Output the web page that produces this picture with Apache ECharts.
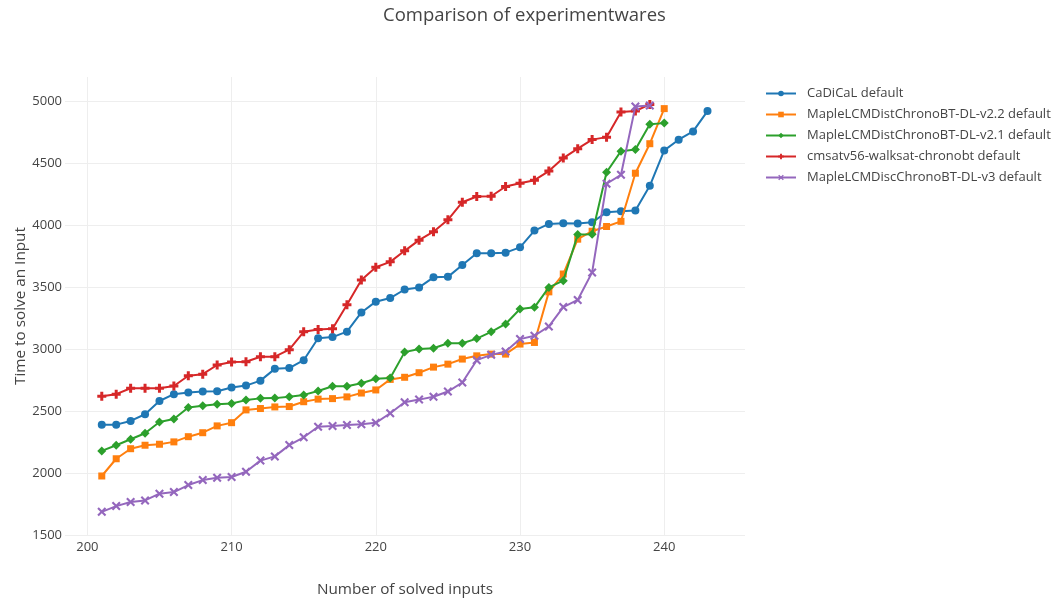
<!DOCTYPE html>
<html>
<head>
<meta charset="utf-8">
<script src="https://cdn.jsdelivr.net/npm/echarts@6/dist/echarts.min.js"></script>
<style>
html,body{margin:0;padding:0;background:#fff;}
#chart{width:1059px;height:601px;}
</style>
</head>
<body>
<div id="chart"></div>
<script>
const titleText = 'Comparison of experimentwares';
const xName = 'Number of solved inputs';
const yName = 'Time to solve an Input';
const startX = 201;
const seriesNames = [
  'CaDiCaL default',
  'MapleLCMDistChronoBT-DL-v2.2 default',
  'MapleLCMDistChronoBT-DL-v2.1 default',
  'cmsatv56-walksat-chronobt default',
  'MapleLCMDiscChronoBT-DL-v3 default'
];
const cadical = [2390,2390,2420,2474,2581,2636,2649,2658,2660,2690,
  2705,2745,2840,2846,2910,3087,3096,3140,3295,3382,
  3411,3480,3497,3578,3582,3678,3772,3772,3777,3820,
  3955,4009,4014,4012,4022,4103,4111,4117,4316,4602,
  4688,4755,4919];
const maple22 = [1976,2115,2196,2224,2232,2251,2293,2325,2380,2406,
  2509,2520,2533,2536,2575,2596,2600,2614,2645,2670,
  2755,2772,2809,2854,2878,2919,2945,2959,2959,3040,
  3053,3461,3605,3886,3950,3988,4030,4418,4656,4939];
const maple21 = [2178,2224,2272,2321,2412,2435,2528,2542,2555,2560,
  2588,2602,2604,2616,2630,2662,2700,2700,2724,2760,
  2766,2975,3000,3006,3046,3046,3084,3139,3202,3323,
  3336,3497,3551,3923,3925,4426,4596,4610,4812,4822];
const cmsat = [2620,2636,2684,2684,2684,2702,2784,2797,2871,2895,
  2897,2938,2938,2995,3139,3157,3163,3357,3557,3660,
  3703,3792,3878,3946,4042,4184,4230,4232,4311,4337,
  4362,4435,4540,4616,4689,4709,4912,4920,4973];
const maplev3 = [1687,1733,1766,1779,1833,1846,1903,1943,1962,1968,
  2010,2100,2134,2225,2288,2373,2380,2388,2394,2405,
  2482,2571,2592,2615,2657,2730,2910,2953,2980,3080,
  3107,3182,3338,3396,3618,4333,4405,4957,4965];

const allValues = [cadical, maple22, maple21, cmsat, maplev3];
const colors = ['#1f77b4','#ff7f0e','#2ca02c','#d62728','#9467bd'];
const crossPath = 'path://M2,0 L4,0 L4,2 L6,2 L6,4 L4,4 L4,6 L2,6 L2,4 L0,4 L0,2 L2,2 Z';
const xPath = 'path://M0,1 L1,0 L3,2 L5,0 L6,1 L4,3 L6,5 L5,6 L3,4 L1,6 L0,5 L2,3 Z';
const symbols = ['circle','rect','diamond',crossPath,xPath];
const symbolSizes = [8,7,9,9,9];

const font = '"Open Sans", "Noto Sans", sans-serif';

const series = allValues.map((vals, k) => ({
  name: seriesNames[k],
  type: 'line',
  data: vals.map((v, i) => [startX + i, v]),
  symbol: symbols[k],
  symbolSize: symbolSizes[k],
  showAllSymbol: true,
  lineStyle: {width: 2, color: colors[k]},
  itemStyle: {color: colors[k]},
  emphasis: {disabled: true},
  z: 2 + k
}));

const chart = echarts.init(document.getElementById('chart'), null, {renderer: 'canvas'});
chart.setOption({
  animation: false,
  color: colors,
  title: {
    text: titleText,
    left: 383,
    top: 6,
    padding: 0,
    textStyle: {fontFamily: font, fontSize: 18.5, fontWeight: 'normal', color: '#444'}
  },
  legend: {
    orient: 'vertical',
    left: 765,
    top: 87,
    padding: 0,
    itemWidth: 30,
    itemHeight: 7,
    itemGap: 8,
    textStyle: {fontFamily: font, fontSize: 13, color: '#444', padding: [0,0,0,6]},
    data: seriesNames
  },
  grid: {left: 65, right: 314, top: 77, bottom: 66, outerBoundsMode: 'none'},
  xAxis: {
    type: 'value',
    min: 198.45,
    max: 245.6,
    splitNumber: 5,
    name: xName,
    nameLocation: 'middle',
    nameGap: 47,
    nameMoveOverlap: false,
    nameTextStyle: {fontFamily: font, fontSize: 15.3, color: '#444'},
    axisLine: {show: false},
    axisTick: {show: false},
    axisLabel: {fontFamily: font, fontSize: 13, color: '#444', margin: 6, showMinLabel: false, showMaxLabel: false},
    splitLine: {show: true, showMinLine: false, showMaxLine: false, lineStyle: {color: '#eeeeee', width: 1}}
  },
  yAxis: {
    type: 'value',
    min: 1500,
    max: 5194,
    interval: 500,
    name: yName,
    nameLocation: 'middle',
    nameGap: 37,
    nameMoveOverlap: false,
    nameTextStyle: {fontFamily: font, fontSize: 15.3, color: '#444'},
    axisLine: {show: false},
    axisTick: {show: false},
    axisLabel: {fontFamily: font, fontSize: 13, color: '#444', margin: 3, showMaxLabel: false,
      formatter: function (v) { return String(v); }},
    splitLine: {show: true, showMaxLine: false, lineStyle: {color: '#eeeeee', width: 1}}
  },
  series: series
});
</script>
</body>
</html>
